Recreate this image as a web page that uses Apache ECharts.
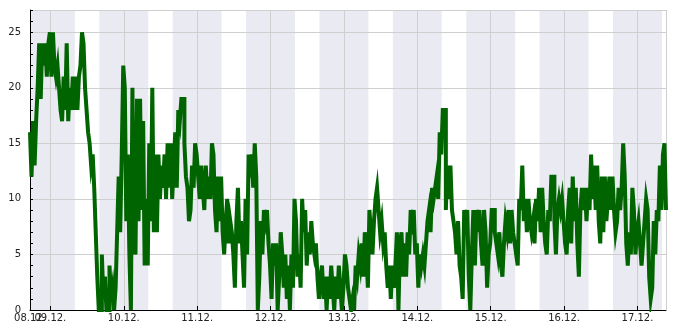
<!DOCTYPE html>
<html>
<head>
<meta charset="utf-8">
<script src="https://cdn.jsdelivr.net/npm/echarts@6/dist/echarts.min.js"></script>
<style>
html,body{margin:0;padding:0;background:#fff;}
#chart{width:685px;height:330px;}
</style>
</head>
<body>
<div id="chart"></div>
<script>
// Series start time (local) and sampling step
var startTime = '2023-12-08T17:20';
var stepMinutes = 30;

// Measured values, one every 30 minutes
var values = [
16,12,17,13,17,20,24,19,24,22,
24,21,24,25,21,25,22,21,22,20,
18,17,21,18,24,17,20,18,21,18,
21,18,21,22,25,24,20,18,16,15,
13,14,11,7,3,0,0,5,1,3,
0,0,4,1,2,0,2,7,
12,7,14,22,20,8,14,5,0,20,
6,5,19,8,19,9,17,4,10,4,
15,8,20,7,14,7,14,10,13,11,
14,10,15,11,15,10,13,16,11,18,
17,19,19,15,12,11,8,9,13,11,
15,14,12,10,13,11,9,13,10,12,
10,15,14,9,7,12,8,12,7,5,
8,10,6,8,7,5,2,8,11,6,
8,5,2,10,5,14,13,14,11,15,
12,0,3,8,5,9,8,9,6,4,
1,6,4,6,0,3,7,5,2,5,
1,4,0,5,2,10,8,3,5,
2,10,7,9,4,7,5,8,6,5,
6,3,1,3,4,1,3,0,3,1,
4,2,0,3,1,4,2,0,2,5,
4,2,1,0,1,0,4,3,5,4,
6,3,7,5,2,9,7,5,8,10,
11,9,7,8,6,7,4,2,4,
1,4,2,4,7,0,6,7,3,6,
3,7,5,9,8,9,5,6,2,5,
4,5,4,6,8,9,7,11,10,11,
12,10,16,14,18,18,9,13,10,13,
9,8,7,5,8,4,3,1,9,7,
9,3,0,5,9,4,9,7,9,
6,4,9,7,2,5,6,9,9,7,
6,5,7,4,3,6,8,7,9,6,
9,7,6,5,4,10,9,13,8,10,
7,10,8,7,8,6,10,8,11,7,
11,8,6,5,9,8,12,12,8,5,
9,10,9,10,8,6,5,9,11,
6,12,8,11,6,3,9,11,9,11,
8,11,9,14,10,13,9,13,8,6,
12,7,12,8,10,12,9,12,9,7,
8,11,9,11,15,12,6,4,7,5,
11,9,5,7,8,6,4,6,8,10,
9,3,1,2,8,5,9,8,13,9,
14,15,9
];

// Shaded night periods (16:00 - 08:00)
var bandStarts = ['2023-12-08T16:00','2023-12-09T16:00','2023-12-10T16:00','2023-12-11T16:00','2023-12-12T16:00','2023-12-13T16:00','2023-12-14T16:00','2023-12-15T16:00','2023-12-16T16:00'];
var bandEnds   = ['2023-12-09T08:00','2023-12-10T08:00','2023-12-11T08:00','2023-12-12T08:00','2023-12-13T08:00','2023-12-14T08:00','2023-12-15T08:00','2023-12-16T08:00','2023-12-17T08:00'];

var yMin = 0, yMax = 27, yLabelStep = 5, yMinorStep = 1;

var t0 = new Date(startTime).getTime();
var stepMs = stepMinutes * 60000;
var seriesData = values.map(function (v, i) { return [t0 + i * stepMs, v]; });
var tMax = t0 + (values.length - 1) * stepMs;

var bandData = bandStarts.map(function (s, i) {
  var a = Math.max(new Date(s).getTime(), t0);
  var b = Math.min(new Date(bandEnds[i]).getTime(), tMax);
  return [a, b];
});

function dayLabel(v) {
  var d = new Date(v);
  var dd = ('0' + d.getDate()).slice(-2), mm = ('0' + (d.getMonth() + 1)).slice(-2);
  return dd + '.' + mm + '.';
}

var chart = echarts.init(document.getElementById('chart'), null, {renderer: 'canvas'});
var fontFam = '"DejaVu Sans", sans-serif';
var labelStyle = {color: '#222', fontSize: 10, fontFamily: fontFam, margin: 3};
chart.setOption({
  animation: false,
  backgroundColor: '#ffffff',
  grid: {left: 30, right: 19, top: 10, bottom: 20, containLabel: false},
  xAxis: [{
    type: 'time',
    min: t0,
    max: tMax,
    minInterval: 86400000,
    maxInterval: 86400000,
    axisLine: {show: true, lineStyle: {color: '#000', width: 1}},
    axisTick: {show: true, inside: true, length: 4, lineStyle: {color: '#000'}},
    axisLabel: Object.assign({
      formatter: '{dd}.{MM}.',
      showMinLabel: false,
      showMaxLabel: false,
      hideOverlap: false
    }, labelStyle),
    splitLine: {show: true, lineStyle: {color: '#cfcfcf', width: 1}}
  }, {
    type: 'time',
    position: 'bottom',
    min: t0,
    max: tMax,
    minInterval: 86400000,
    maxInterval: 86400000,
    axisLine: {show: false},
    axisTick: {show: false},
    splitLine: {show: false},
    axisLabel: Object.assign({
      showMinLabel: true,
      showMaxLabel: false,
      hideOverlap: false,
      formatter: function (v) { return v === t0 ? dayLabel(v) : ''; }
    }, labelStyle)
  }],
  yAxis: [{
    type: 'value',
    min: yMin, max: yMax, interval: yLabelStep,
    axisLine: {show: true, lineStyle: {color: '#000', width: 1}},
    axisTick: {show: true, inside: true, length: 3, lineStyle: {color: '#000'}},
    axisLabel: {showMaxLabel: false, color: '#222', fontSize: 10, fontFamily: fontFam, margin: 9},
    splitLine: {show: true, lineStyle: {color: '#cfcfcf', width: 1}}
  }, {
    type: 'value', position: 'left',
    min: yMin, max: yMax, interval: yMinorStep,
    axisLine: {show: false},
    axisTick: {show: true, inside: true, length: 3, lineStyle: {color: '#000'}},
    axisLabel: {show: false},
    splitLine: {show: false}
  }],
  series: [{
    type: 'custom',
    z: -1,
    silent: true,
    data: bandData,
    renderItem: function (params, api) {
      var p1 = api.coord([api.value(0), yMax]);
      var p2 = api.coord([api.value(1), yMin]);
      return {
        type: 'rect',
        shape: {x: p1[0], y: p1[1], width: p2[0] - p1[0], height: p2[1] - p1[1]},
        style: {fill: '#eaeaf2'}
      };
    },
    encode: {x: [0, 1]}
  }, {
    type: 'line',
    data: seriesData,
    step: 'end',
    showSymbol: false,
    symbol: 'none',
    lineStyle: {color: '#006400', width: 4, cap: 'butt', join: 'miter'},
    z: 3
  }]
});
</script>
</body>
</html>
